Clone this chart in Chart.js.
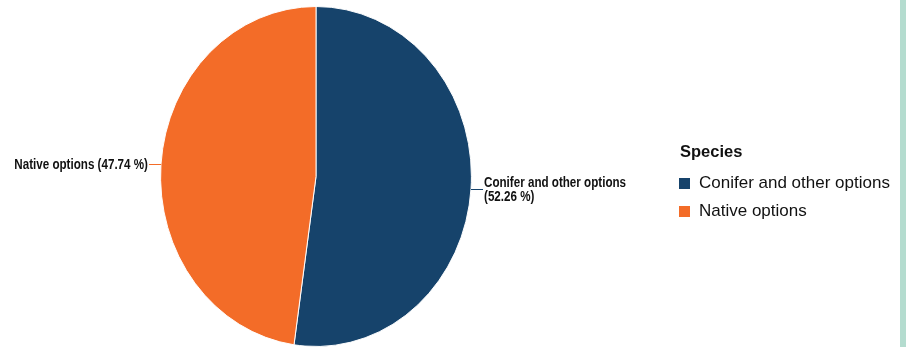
<!DOCTYPE html>
<html>
<head>
<meta charset="utf-8">
<script src="https://cdn.jsdelivr.net/npm/chart.js@4.4.1/dist/chart.umd.min.js"></script>
<style>
    html, body { margin: 0; padding: 0; background: #ffffff; }
    #wrap { position: relative; width: 906px; height: 347px; overflow: hidden; background: #ffffff; }
    #speciesChart { position: absolute; left: 0; top: 0; }
    #strip { position: absolute; left: 900px; top: 0; width: 6px; height: 347px; background: #b4dccf; }
</style>
</head>
<body>
<div id="wrap">
    <canvas id="speciesChart" width="900" height="347"></canvas>
    <div id="strip"></div>
</div>
<script>
const categories = ["Conifer and other options", "Native options"];
const shares = [52.26, 47.74];
const sliceColors = ["#16436b", "#f36c28"];
const legendTitle = "Species";

// the reference pie is squeezed sideways, so the arcs get drawn a bit narrower
const squeezeX = 154.5 / 169;

function labelFor(i) {
    return categories[i] + " (" + shares[i].toFixed(2) + " %)";
}

const squeezePie = {
    id: "squeezePie",
    beforeDatasetsDraw(chart) {
        const arc = chart.getDatasetMeta(0).data[0];
        const ctx = chart.ctx;
        ctx.save();
        ctx.translate(arc.x, arc.y);
        ctx.scale(squeezeX, 1);
        ctx.translate(-arc.x, -arc.y);
    },
    afterDatasetsDraw(chart) {
        chart.ctx.restore();
    }
};

const sliceLabels = {
    id: "sliceLabels",
    afterDatasetsDraw(chart) {
        const ctx = chart.ctx;
        const narrow = 0.83;
        const lineH = 14;
        const capH = 10;

        chart.getDatasetMeta(0).data.forEach((arc, i) => {
            const mid = (arc.startAngle + arc.endAngle) / 2;
            const px = arc.x + Math.cos(mid) * arc.outerRadius * squeezeX;
            const py = arc.y + Math.sin(mid) * arc.outerRadius;
            const right = Math.cos(mid) >= 0;
            const dir = right ? 1 : -1;

            ctx.save();
            ctx.strokeStyle = sliceColors[i];
            ctx.lineWidth = 1;
            ctx.beginPath();
            ctx.moveTo(px, Math.round(py) + 0.5);
            ctx.lineTo(px + dir * 12, Math.round(py) + 0.5);
            ctx.stroke();

            ctx.font = "bold 14px 'Liberation Sans', Arial, sans-serif";
            ctx.fillStyle = "#111111";
            ctx.textBaseline = "alphabetic";

            let lines = [labelFor(i)];
            if (ctx.measureText(lines[0]).width * narrow > 150) {
                lines = [categories[i], "(" + shares[i].toFixed(2) + " %)"];
            }

            const tx = px + dir * 13;
            const top = py - (capH + lineH * (lines.length - 1)) / 2;
            lines.forEach((txt, k) => {
                const y = top + capH + k * lineH;
                ctx.save();
                ctx.translate(tx, y);
                ctx.scale(narrow, 1);
                ctx.textAlign = right ? "left" : "right";
                ctx.fillText(txt, 0, 0);
                ctx.restore();
            });
            ctx.restore();
        });
    }
};

const sideLegend = {
    id: "sideLegend",
    afterDraw(chart) {
        const ctx = chart.ctx;
        ctx.save();
        ctx.fillStyle = "#111111";
        ctx.textAlign = "left";
        ctx.textBaseline = "alphabetic";
        ctx.font = "bold 16.5px 'Liberation Sans', Arial, sans-serif";
        ctx.fillText(legendTitle, 680, 157);

        ctx.font = "17px 'Liberation Sans', Arial, sans-serif";
        categories.forEach((name, i) => {
            const y = 178 + i * 28;
            ctx.fillStyle = sliceColors[i];
            ctx.fillRect(679, y, 11, 11);
            ctx.fillStyle = "#111111";
            ctx.fillText(name, 699, y + 10);
        });
        ctx.restore();
    }
};

new Chart(document.getElementById("speciesChart"), {
    type: "pie",
    data: {
        labels: categories,
        datasets: [{
            data: shares,
            backgroundColor: sliceColors,
            borderColor: "#ffffff",
            borderWidth: 1
        }]
    },
    options: {
        responsive: false,
        animation: false,
        layout: {
            padding: { left: 0, right: 268, top: 6, bottom: 0 }
        },
        plugins: {
            legend: { display: false },
            tooltip: { enabled: false }
        }
    },
    plugins: [squeezePie, sliceLabels, sideLegend]
});
</script>
</body>
</html>
